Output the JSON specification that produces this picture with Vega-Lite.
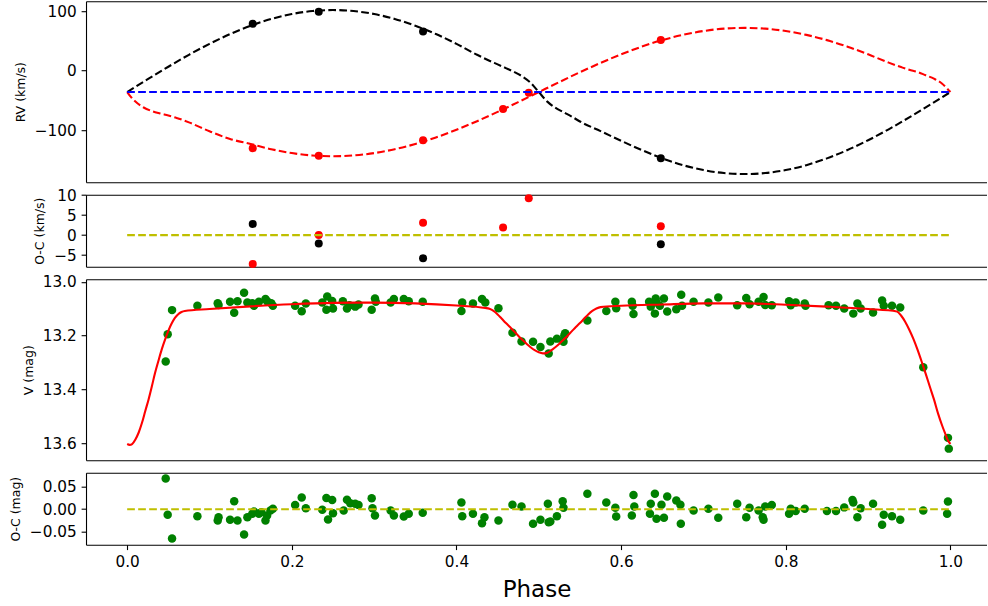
{
"$schema": "https://vega.github.io/schema/vega-lite/v6.json",
"padding": {"left": 9, "top": 1.2, "right": 0, "bottom": 0},
"background": "white",
"spacing": 12.5,
"bounds": "flush",
"config": {
  "view": {"stroke": null},
  "axis": {"grid": false, "labelFont": "DejaVu Sans", "labelFontSize": 15.3, "labelColor": "black", "titleFont": "DejaVu Sans", "titleFontSize": 12.5, "titleFontWeight": "normal", "titleColor": "black", "domainColor": "black", "domainWidth": 1.1, "tickColor": "black", "tickSize": 4.9, "tickWidth": 1.1, "labelPadding": 4.9, "labelFlush": false, "labelOverlap": false},
  "axisY": {"titlePadding": 7}
},
"datasets": {
  "rvmodel": [
    {"phase":0,"star":"1","rv":-36},{"phase":0.025,"star":"1","rv":-14.4},{"phase":0.05,"star":"1","rv":6.6},{"phase":0.075,"star":"1","rv":26.7},{"phase":0.1,"star":"1","rv":45.1},{"phase":0.125,"star":"1","rv":61.6},{"phase":0.15,"star":"1","rv":75.6},{"phase":0.175,"star":"1","rv":87.0},{"phase":0.2,"star":"1","rv":95.3},{"phase":0.225,"star":"1","rv":100.3},{"phase":0.25,"star":"1","rv":102},{"phase":0.275,"star":"1","rv":100.3},{"phase":0.3,"star":"1","rv":95.3},{"phase":0.325,"star":"1","rv":87.0},{"phase":0.35,"star":"1","rv":75.6},{"phase":0.375,"star":"1","rv":61.6},{"phase":0.4,"star":"1","rv":45.1},{"phase":0.425,"star":"1","rv":26.7},{"phase":0.44,"star":"1","rv":16.8},{"phase":0.45,"star":"1","rv":10.6},{"phase":0.46,"star":"1","rv":4.3},{"phase":0.47,"star":"1","rv":-2.1},{"phase":0.48,"star":"1","rv":-9.7},{"phase":0.49,"star":"1","rv":-20.3},{"phase":0.5,"star":"1","rv":-36},{"phase":0.51,"star":"1","rv":-51.7},{"phase":0.52,"star":"1","rv":-62.3},{"phase":0.53,"star":"1","rv":-69.9},{"phase":0.54,"star":"1","rv":-77.3},{"phase":0.55,"star":"1","rv":-85.6},{"phase":0.575,"star":"1","rv":-101.7},{"phase":0.6,"star":"1","rv":-118.1},{"phase":0.625,"star":"1","rv":-133.6},{"phase":0.65,"star":"1","rv":-147.6},{"phase":0.675,"star":"1","rv":-159.0},{"phase":0.7,"star":"1","rv":-167.3},{"phase":0.725,"star":"1","rv":-172.3},{"phase":0.75,"star":"1","rv":-174},{"phase":0.775,"star":"1","rv":-172.3},{"phase":0.8,"star":"1","rv":-167.3},{"phase":0.825,"star":"1","rv":-159.0},{"phase":0.85,"star":"1","rv":-147.6},{"phase":0.875,"star":"1","rv":-133.6},{"phase":0.9,"star":"1","rv":-117.1},{"phase":0.925,"star":"1","rv":-98.7},{"phase":0.95,"star":"1","rv":-78.6},{"phase":0.975,"star":"1","rv":-57.6},{"phase":1.0,"star":"1","rv":-36},
    {"phase":0,"star":"2","rv":-36},{"phase":0.005,"star":"2","rv":-45},{"phase":0.01,"star":"2","rv":-52},{"phase":0.02,"star":"2","rv":-62},{"phase":0.03,"star":"2","rv":-68},{"phase":0.04,"star":"2","rv":-72},{"phase":0.05,"star":"2","rv":-75.5},{"phase":0.06,"star":"2","rv":-79.5},{"phase":0.075,"star":"2","rv":-87},{"phase":0.1,"star":"2","rv":-102},{"phase":0.125,"star":"2","rv":-115},{"phase":0.15,"star":"2","rv":-123.4},{"phase":0.175,"star":"2","rv":-132.2},{"phase":0.2,"star":"2","rv":-138.7},{"phase":0.225,"star":"2","rv":-142.7},{"phase":0.25,"star":"2","rv":-144},{"phase":0.275,"star":"2","rv":-142.7},{"phase":0.3,"star":"2","rv":-138.7},{"phase":0.325,"star":"2","rv":-132.2},{"phase":0.35,"star":"2","rv":-123.4},{"phase":0.375,"star":"2","rv":-112.4},{"phase":0.4,"star":"2","rv":-99.5},{"phase":0.425,"star":"2","rv":-85},{"phase":0.45,"star":"2","rv":-69.4},{"phase":0.475,"star":"2","rv":-52.9},{"phase":0.5,"star":"2","rv":-36},{"phase":0.525,"star":"2","rv":-19.1},{"phase":0.55,"star":"2","rv":-2.6},{"phase":0.575,"star":"2","rv":13},{"phase":0.6,"star":"2","rv":27.5},{"phase":0.625,"star":"2","rv":40.4},{"phase":0.65,"star":"2","rv":51.4},{"phase":0.675,"star":"2","rv":60.2},{"phase":0.7,"star":"2","rv":66.7},{"phase":0.725,"star":"2","rv":70.7},{"phase":0.75,"star":"2","rv":72},{"phase":0.775,"star":"2","rv":70.7},{"phase":0.8,"star":"2","rv":66.7},{"phase":0.825,"star":"2","rv":60.2},{"phase":0.85,"star":"2","rv":51.4},{"phase":0.875,"star":"2","rv":40.4},{"phase":0.9,"star":"2","rv":27.5},{"phase":0.925,"star":"2","rv":13.5},{"phase":0.94,"star":"2","rv":6},{"phase":0.95,"star":"2","rv":1.4},{"phase":0.96,"star":"2","rv":-2.1},{"phase":0.97,"star":"2","rv":-7.8},{"phase":0.98,"star":"2","rv":-13.5},{"phase":0.99,"star":"2","rv":-22},{"phase":0.995,"star":"2","rv":-28.6},{"phase":1.0,"star":"2","rv":-36}
  ],
  "gamma": [{"phase":0,"rv":-36},{"phase":1,"rv":-36}],
  "rvobs": [
    {"phase":0.1525,"star":"1","rv":78.8},{"phase":0.2327,"star":"1","rv":99},{"phase":0.3594,"star":"1","rv":65.8},{"phase":0.6482,"star":"1","rv":-147.5},
    {"phase":0.1525,"star":"2","rv":-130.4},{"phase":0.2327,"star":"2","rv":-143.3},{"phase":0.3594,"star":"2","rv":-116.9},{"phase":0.4566,"star":"2","rv":-64.6},{"phase":0.4878,"star":"2","rv":-37.1},{"phase":0.6482,"star":"2","rv":51.8}
  ],
  "rvoc": [
    {"phase":0.1525,"star":"1","oc":2.8},{"phase":0.2327,"star":"1","oc":-2.1},{"phase":0.3594,"star":"1","oc":-5.8},{"phase":0.6482,"star":"1","oc":-2.3},
    {"phase":0.1525,"star":"2","oc":-7.2},{"phase":0.2327,"star":"2","oc":0.0},{"phase":0.3594,"star":"2","oc":3.1},{"phase":0.4566,"star":"2","oc":1.9},{"phase":0.4878,"star":"2","oc":9.2},{"phase":0.6482,"star":"2","oc":2.2}
  ],
  "zero": [{"phase":0,"oc":0},{"phase":1,"oc":0}],
  "lcmodel": [
    {"phase":0,"V":13.603},{"phase":0.003,"V":13.606},{"phase":0.006,"V":13.603},{"phase":0.01,"V":13.586},{"phase":0.014,"V":13.56},{"phase":0.018,"V":13.524},{"phase":0.022,"V":13.48},{"phase":0.026,"V":13.437},{"phase":0.03,"V":13.388},{"phase":0.034,"V":13.337},{"phase":0.038,"V":13.293},{"phase":0.042,"V":13.251},{"phase":0.046,"V":13.215},{"phase":0.05,"V":13.182},{"phase":0.054,"V":13.155},{"phase":0.058,"V":13.134},{"phase":0.062,"V":13.12},{"phase":0.066,"V":13.112},{"phase":0.07,"V":13.108},{"phase":0.1,"V":13.101},{"phase":0.15,"V":13.091},{"phase":0.2,"V":13.083},{"phase":0.25,"V":13.078},{"phase":0.3,"V":13.077},{"phase":0.35,"V":13.08},{"phase":0.4,"V":13.088},{"phase":0.435,"V":13.097},{"phase":0.44,"V":13.1},{"phase":0.445,"V":13.108},{"phase":0.45,"V":13.121},{"phase":0.455,"V":13.137},{"phase":0.46,"V":13.153},{"phase":0.465,"V":13.168},{"phase":0.47,"V":13.184},{"phase":0.475,"V":13.2},{"phase":0.48,"V":13.215},{"phase":0.485,"V":13.23},{"phase":0.49,"V":13.243},{"phase":0.495,"V":13.254},{"phase":0.5,"V":13.262},{"phase":0.505,"V":13.266},{"phase":0.51,"V":13.264},{"phase":0.515,"V":13.255},{"phase":0.52,"V":13.243},{"phase":0.525,"V":13.23},{"phase":0.53,"V":13.215},{"phase":0.535,"V":13.2},{"phase":0.54,"V":13.184},{"phase":0.545,"V":13.168},{"phase":0.55,"V":13.153},{"phase":0.555,"V":13.137},{"phase":0.56,"V":13.121},{"phase":0.565,"V":13.108},{"phase":0.57,"V":13.099},{"phase":0.575,"V":13.094},{"phase":0.6,"V":13.089},{"phase":0.65,"V":13.084},{"phase":0.7,"V":13.08},{"phase":0.75,"V":13.08},{"phase":0.8,"V":13.085},{"phase":0.85,"V":13.092},{"phase":0.9,"V":13.101},{"phase":0.935,"V":13.11},{"phase":0.94,"V":13.125},{"phase":0.945,"V":13.148},{"phase":0.95,"V":13.178},{"phase":0.955,"V":13.212},{"phase":0.96,"V":13.252},{"phase":0.965,"V":13.296},{"phase":0.97,"V":13.342},{"phase":0.975,"V":13.39},{"phase":0.98,"V":13.437},{"phase":0.985,"V":13.49},{"phase":0.99,"V":13.535},{"phase":0.994,"V":13.567},{"phase":0.997,"V":13.59},{"phase":1.0,"V":13.603}
  ],
  "phot": [
    {"phase":0.0468,"V":13.296},{"phase":0.0492,"V":13.195},{"phase":0.0545,"V":13.105},{"phase":0.0853,"V":13.089},{"phase":0.110,"V":13.079},{"phase":0.111,"V":13.086},{"phase":0.125,"V":13.074},{"phase":0.130,"V":13.115},{"phase":0.134,"V":13.072},{"phase":0.142,"V":13.040},{"phase":0.146,"V":13.077},{"phase":0.152,"V":13.079},{"phase":0.154,"V":13.089},{"phase":0.160,"V":13.074},{"phase":0.168,"V":13.064},{"phase":0.170,"V":13.072},{"phase":0.175,"V":13.079},{"phase":0.177,"V":13.089},{"phase":0.204,"V":13.089},{"phase":0.212,"V":13.109},{"phase":0.217,"V":13.080},{"phase":0.237,"V":13.077},{"phase":0.242,"V":13.104},{"phase":0.243,"V":13.054},{"phase":0.249,"V":13.071},{"phase":0.250,"V":13.099},{"phase":0.262,"V":13.072},{"phase":0.267,"V":13.099},{"phase":0.270,"V":13.087},{"phase":0.277,"V":13.092},{"phase":0.281,"V":13.084},{"phase":0.297,"V":13.104},{"phase":0.301,"V":13.062},{"phase":0.302,"V":13.074},{"phase":0.320,"V":13.077},{"phase":0.324,"V":13.064},{"phase":0.336,"V":13.064},{"phase":0.342,"V":13.072},{"phase":0.359,"V":13.074},{"phase":0.406,"V":13.108},{"phase":0.407,"V":13.077},{"phase":0.420,"V":13.080},{"phase":0.431,"V":13.064},{"phase":0.435,"V":13.077},{"phase":0.451,"V":13.098},{"phase":0.468,"V":13.189},{"phase":0.479,"V":13.222},{"phase":0.493,"V":13.223},{"phase":0.502,"V":13.242},{"phase":0.512,"V":13.266},{"phase":0.514,"V":13.222},{"phase":0.522,"V":13.211},{"phase":0.530,"V":13.223},{"phase":0.531,"V":13.199},{"phase":0.532,"V":13.191},{"phase":0.559,"V":13.144},{"phase":0.582,"V":13.108},{"phase":0.593,"V":13.074},{"phase":0.594,"V":13.098},{"phase":0.613,"V":13.074},{"phase":0.614,"V":13.089},{"phase":0.615,"V":13.119},{"phase":0.634,"V":13.074},{"phase":0.636,"V":13.092},{"phase":0.641,"V":13.118},{"phase":0.642,"V":13.062},{"phase":0.643,"V":13.077},{"phase":0.647,"V":13.089},{"phase":0.652,"V":13.062},{"phase":0.656,"V":13.110},{"phase":0.667,"V":13.102},{"phase":0.673,"V":13.048},{"phase":0.674,"V":13.089},{"phase":0.688,"V":13.074},{"phase":0.706,"V":13.077},{"phase":0.718,"V":13.058},{"phase":0.741,"V":13.087},{"phase":0.752,"V":13.060},{"phase":0.756,"V":13.083},{"phase":0.767,"V":13.074},{"phase":0.773,"V":13.056},{"phase":0.775,"V":13.086},{"phase":0.783,"V":13.087},{"phase":0.804,"V":13.072},{"phase":0.806,"V":13.087},{"phase":0.812,"V":13.077},{"phase":0.823,"V":13.080},{"phase":0.824,"V":13.089},{"phase":0.852,"V":13.087},{"phase":0.861,"V":13.089},{"phase":0.871,"V":13.099},{"phase":0.882,"V":13.118},{"phase":0.887,"V":13.080},{"phase":0.891,"V":13.099},{"phase":0.906,"V":13.114},{"phase":0.917,"V":13.069},{"phase":0.919,"V":13.089},{"phase":0.929,"V":13.089},{"phase":0.939,"V":13.095},{"phase":0.967,"V":13.317},{"phase":0.997,"V":13.58},{"phase":0.998,"V":13.62}
  ],
  "photoc": [
    {"phase":0.0468,"oc":0.068},{"phase":0.0492,"oc":-0.0125},{"phase":0.0545,"oc":-0.065},{"phase":0.0853,"oc":-0.0154},{"phase":0.110,"oc":-0.025},{"phase":0.111,"oc":-0.018},{"phase":0.125,"oc":-0.0235},{"phase":0.130,"oc":0.0176},{"phase":0.134,"oc":-0.025},{"phase":0.142,"oc":-0.056},{"phase":0.146,"oc":-0.0176},{"phase":0.152,"oc":-0.0103},{"phase":0.154,"oc":-0.005},{"phase":0.160,"oc":-0.0103},{"phase":0.163,"oc":-0.007},{"phase":0.168,"oc":-0.025},{"phase":0.170,"oc":-0.014},{"phase":0.174,"oc":-0.003},{"phase":0.177,"oc":0.001},{"phase":0.204,"oc":0.0095},{"phase":0.212,"oc":0.026},{"phase":0.217,"oc":0.002},{"phase":0.237,"oc":-0.0015},{"phase":0.242,"oc":0.025},{"phase":0.244,"oc":-0.023},{"phase":0.249,"oc":0.0205},{"phase":0.250,"oc":-0.009},{"phase":0.263,"oc":-0.003},{"phase":0.267,"oc":0.021},{"phase":0.271,"oc":0.013},{"phase":0.277,"oc":0.012},{"phase":0.281,"oc":0.0095},{"phase":0.297,"oc":0.024},{"phase":0.298,"oc":0.002},{"phase":0.301,"oc":-0.014},{"phase":0.320,"oc":-0.003},{"phase":0.324,"oc":-0.014},{"phase":0.336,"oc":-0.016},{"phase":0.342,"oc":-0.010},{"phase":0.359,"oc":-0.008},{"phase":0.406,"oc":0.015},{"phase":0.407,"oc":-0.0154},{"phase":0.420,"oc":-0.010},{"phase":0.431,"oc":-0.031},{"phase":0.434,"oc":-0.018},{"phase":0.451,"oc":-0.025},{"phase":0.468,"oc":0.010},{"phase":0.479,"oc":0.006},{"phase":0.493,"oc":-0.032},{"phase":0.502,"oc":-0.0235},{"phase":0.511,"oc":0.012},{"phase":0.512,"oc":-0.029},{"phase":0.514,"oc":-0.027},{"phase":0.522,"oc":-0.0154},{"phase":0.529,"oc":0.0176},{"phase":0.530,"oc":0.003},{"phase":0.559,"oc":0.034},{"phase":0.582,"oc":0.015},{"phase":0.593,"oc":0.003},{"phase":0.594,"oc":-0.016},{"phase":0.615,"oc":0.0315},{"phase":0.616,"oc":0.006},{"phase":0.613,"oc":-0.014},{"phase":0.636,"oc":0.012},{"phase":0.635,"oc":-0.010},{"phase":0.641,"oc":0.034},{"phase":0.643,"oc":-0.021},{"phase":0.649,"oc":0.010},{"phase":0.652,"oc":-0.019},{"phase":0.656,"oc":0.028},{"phase":0.667,"oc":0.019},{"phase":0.672,"oc":0.010},{"phase":0.6725,"oc":-0.032},{"phase":0.688,"oc":-0.003},{"phase":0.706,"oc":0.001},{"phase":0.718,"oc":-0.019},{"phase":0.741,"oc":0.012},{"phase":0.752,"oc":-0.018},{"phase":0.756,"oc":0.003},{"phase":0.767,"oc":-0.003},{"phase":0.772,"oc":-0.018},{"phase":0.773,"oc":-0.0235},{"phase":0.775,"oc":0.006},{"phase":0.783,"oc":0.0095},{"phase":0.804,"oc":-0.010},{"phase":0.806,"oc":0.001},{"phase":0.812,"oc":-0.004},{"phase":0.823,"oc":0.001},{"phase":0.850,"oc":-0.004},{"phase":0.861,"oc":-0.004},{"phase":0.871,"oc":0.004},{"phase":0.881,"oc":0.0205},{"phase":0.882,"oc":0.015},{"phase":0.887,"oc":-0.018},{"phase":0.891,"oc":0.002},{"phase":0.906,"oc":0.012},{"phase":0.917,"oc":-0.0345},{"phase":0.919,"oc":-0.0125},{"phase":0.929,"oc":-0.0154},{"phase":0.939,"oc":-0.0235},{"phase":0.967,"oc":-0.003},{"phase":0.997,"oc":0.017},{"phase":0.996,"oc":-0.010}
  ]
},
"vconcat": [
  {
    "width": 901, "height": 181,
    "resolve": {"axis": {"x": "independent"}},
    "layer": [
      {
        "data": {"name": "rvobs"},
        "mark": {"type": "circle", "size": 64, "opacity": 1},
        "encoding": {
          "x": {"field": "phase", "type": "quantitative", "scale": {"domain": [-0.05, 1.0444], "nice": false, "zero": false}, "axis": {"orient": "bottom", "labels": false, "ticks": false, "title": null}},
          "y": {"field": "rv", "type": "quantitative", "scale": {"domain": [-187.7, 116.9], "nice": false, "zero": false}, "axis": {"values": [-100, 0, 100], "title": "RV (km/s)"}},
          "color": {"field": "star", "type": "nominal", "scale": {"domain": ["1", "2"], "range": ["black", "red"]}, "legend": null}
        }
      },
      {
        "data": {"name": "rvmodel"},
        "mark": {"type": "line", "strokeDash": [7.7, 3.3], "strokeWidth": 2.1, "interpolate": "monotone"},
        "encoding": {
          "x": {"field": "phase", "type": "quantitative", "scale": {"domain": [-0.05, 1.0444], "nice": false, "zero": false}, "axis": {"orient": "top", "labels": false, "ticks": false, "title": null}},
          "y": {"field": "rv", "type": "quantitative", "scale": {"domain": [-187.7, 116.9], "nice": false, "zero": false}, "axis": {"values": [-100, 0, 100], "title": "RV (km/s)"}},
          "color": {"field": "star", "type": "nominal", "scale": {"domain": ["1", "2"], "range": ["black", "red"]}, "legend": null}
        }
      },
      {
        "data": {"name": "gamma"},
        "mark": {"type": "line", "strokeDash": [7.7, 3.3], "strokeWidth": 2.1, "color": "#0000ff"},
        "encoding": {
          "x": {"field": "phase", "type": "quantitative", "scale": {"domain": [-0.05, 1.0444], "nice": false, "zero": false}, "axis": null},
          "y": {"field": "rv", "type": "quantitative", "scale": {"domain": [-187.7, 116.9], "nice": false, "zero": false}, "axis": {"values": [-100, 0, 100], "title": "RV (km/s)"}}
        }
      }
    ]
  },
  {
    "width": 901, "height": 72,
    "resolve": {"axis": {"x": "independent"}},
    "layer": [
      {
        "data": {"name": "rvoc"},
        "mark": {"type": "circle", "size": 64, "opacity": 1},
        "encoding": {
          "x": {"field": "phase", "type": "quantitative", "scale": {"domain": [-0.05, 1.0444], "nice": false, "zero": false}, "axis": {"orient": "bottom", "labels": false, "ticks": false, "title": null}},
          "y": {"field": "oc", "type": "quantitative", "scale": {"domain": [-7.9, 10.1], "nice": false, "zero": false}, "axis": {"values": [-5, 0, 5, 10], "title": "O-C (km/s)"}},
          "color": {"field": "star", "type": "nominal", "scale": {"domain": ["1", "2"], "range": ["black", "red"]}, "legend": null}
        }
      },
      {
        "data": {"name": "zero"},
        "mark": {"type": "line", "strokeDash": [7.7, 3.3], "strokeWidth": 2.1, "color": "#bfbf00"},
        "encoding": {
          "x": {"field": "phase", "type": "quantitative", "scale": {"domain": [-0.05, 1.0444], "nice": false, "zero": false}, "axis": {"orient": "top", "labels": false, "ticks": false, "title": null}},
          "y": {"field": "oc", "type": "quantitative", "scale": {"domain": [-7.9, 10.1], "nice": false, "zero": false}, "axis": {"values": [-5, 0, 5, 10], "title": "O-C (km/s)"}}
        }
      }
    ]
  },
  {
    "width": 901, "height": 181,
    "resolve": {"axis": {"x": "independent"}},
    "layer": [
      {
        "data": {"name": "phot"},
        "mark": {"type": "circle", "size": 72, "opacity": 1, "color": "#008000"},
        "encoding": {
          "x": {"field": "phase", "type": "quantitative", "scale": {"domain": [-0.05, 1.0444], "nice": false, "zero": false}, "axis": {"orient": "bottom", "labels": false, "ticks": false, "title": null}},
          "y": {"field": "V", "type": "quantitative", "scale": {"domain": [12.99, 13.663], "reverse": true, "nice": false, "zero": false}, "axis": {"values": [13.0, 13.2, 13.4, 13.6], "format": ".1f", "title": "V (mag)"}}
        }
      },
      {
        "data": {"name": "lcmodel"},
        "mark": {"type": "line", "strokeWidth": 2.1, "color": "#ff0000", "interpolate": "monotone"},
        "encoding": {
          "x": {"field": "phase", "type": "quantitative", "scale": {"domain": [-0.05, 1.0444], "nice": false, "zero": false}, "axis": {"orient": "top", "labels": false, "ticks": false, "title": null}},
          "y": {"field": "V", "type": "quantitative", "scale": {"domain": [12.99, 13.663], "reverse": true, "nice": false, "zero": false}, "axis": {"values": [13.0, 13.2, 13.4, 13.6], "format": ".1f", "title": "V (mag)"}}
        }
      }
    ]
  },
  {
    "width": 901, "height": 72,
    "resolve": {"axis": {"x": "independent"}},
    "layer": [
      {
        "data": {"name": "photoc"},
        "mark": {"type": "circle", "size": 72, "opacity": 1, "color": "#008000"},
        "encoding": {
          "x": {"field": "phase", "type": "quantitative", "scale": {"domain": [-0.05, 1.0444], "nice": false, "zero": false}, "axis": {"orient": "bottom", "values": [0, 0.2, 0.4, 0.6, 0.8, 1.0], "format": ".1f", "title": "Phase", "titleFontSize": 23, "titlePadding": 9}},
          "y": {"field": "oc", "type": "quantitative", "scale": {"domain": [-0.0786, 0.0808], "nice": false, "zero": false}, "axis": {"values": [-0.05, 0, 0.05], "format": ".2f", "title": "O-C (mag)"}}
        }
      },
      {
        "data": {"name": "zero"},
        "mark": {"type": "line", "strokeDash": [7.7, 3.3], "strokeWidth": 2.1, "color": "#bfbf00"},
        "encoding": {
          "x": {"field": "phase", "type": "quantitative", "scale": {"domain": [-0.05, 1.0444], "nice": false, "zero": false}, "axis": {"orient": "top", "labels": false, "ticks": false, "title": null}},
          "y": {"field": "oc", "type": "quantitative", "scale": {"domain": [-0.0786, 0.0808], "nice": false, "zero": false}, "axis": {"values": [-0.05, 0, 0.05], "format": ".2f", "title": "O-C (mag)"}}
        }
      }
    ]
  }
]
}
